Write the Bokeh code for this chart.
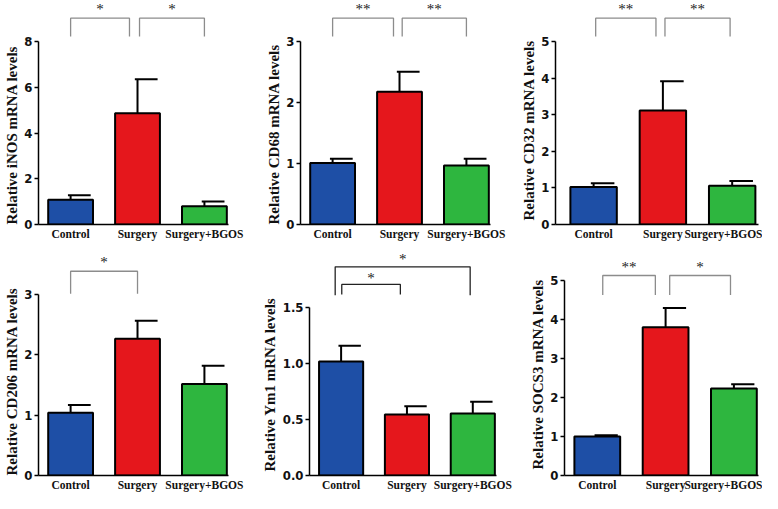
from bokeh.plotting import figure
from bokeh.layouts import column, row
from bokeh.models import Range1d, FixedTicker, ColumnDataSource, Title
from bokeh.core.properties import value
from bokeh.embed import file_html
from bokeh.resources import INLINE

# ---------------- data ----------------
groups = ["Control", "Surgery", "Surgery+BGOS"]

genes = ["iNOS", "CD68", "CD32", "CD206", "Ym1", "SOCS3"]

inos_mean = [1.08, 4.88, 0.80]
inos_err = [0.20, 1.49, 0.21]

cd68_mean = [1.01, 2.18, 0.97]
cd68_err = [0.07, 0.33, 0.11]

cd32_mean = [1.03, 3.12, 1.06]
cd32_err = [0.10, 0.80, 0.13]

cd206_mean = [1.04, 2.27, 1.52]
cd206_err = [0.13, 0.30, 0.30]

ym1_mean = [1.02, 0.545, 0.555]
ym1_err = [0.14, 0.075, 0.105]

socs3_mean = [1.00, 3.80, 2.23]
socs3_err = [0.03, 0.49, 0.11]

y_max = [8, 3, 5, 3, 1.5, 5]
y_ticks = [[0, 2, 4, 6, 8], [0, 1, 2, 3], [0, 1, 2, 3, 4, 5],
           [0, 1, 2, 3], [0.0, 0.5, 1.0, 1.5], [0, 1, 2, 3, 4, 5]]

# significance comparisons: (group i, group j, label)
sig_inos = [(0, 1, "*"), (1, 2, "*")]
sig_cd68 = [(0, 1, "**"), (1, 2, "**")]
sig_cd32 = [(0, 1, "**"), (1, 2, "**")]
sig_cd206 = [(0, 1, "*")]
sig_ym1 = [(0, 2, "*"), (0, 1, "*")]
sig_socs3 = [(0, 1, "**"), (1, 2, "*")]

means = [inos_mean, cd68_mean, cd32_mean, cd206_mean, ym1_mean, socs3_mean]
errs = [inos_err, cd68_err, cd32_err, cd206_err, ym1_err, socs3_err]
sigs = [sig_inos, sig_cd68, sig_cd32, sig_cd206, sig_ym1, sig_socs3]

# ---------------- styling / layout ----------------
bar_colors = ["#1E4FA6", "#E5171C", "#2EB63F"]
SERIF = "Liberation Serif"
NARROW = "DejaVu Sans Condensed"

# per panel: width, height, min_border_left, min_border_right, x_start, x_end,
# top factor, y-label offset from the frame bottom
layout_cfg = [
    dict(w=262, h=242, bl=33, br=34, x0=-0.48, x1=2.36, top=1.227, lo=0),
    dict(w=255, h=242, bl=33, br=27, x0=-0.48, x1=2.36, top=1.227, lo=0),
    dict(w=245, h=242, bl=33, br=4, x0=-0.55, x1=2.38, top=1.227, lo=4),
    dict(w=258, h=251, bl=33, br=30, x0=-0.48, x1=2.36, top=1.289, lo=0),
    dict(w=268, h=251, bl=43, br=30, x0=-0.48, x1=2.36, top=1.39, lo=4),
    dict(w=236, h=251, bl=33, br=4, x0=-0.48, x1=2.36, top=1.194, lo=6),
]
# bracket geometry per panel, per comparison:
# (left offset, right offset, top frac, drop frac, star frac)
bracket_cfg = [
    [(0.0, -0.12, 1.13, 1.03, 1.224), (0.03, 0.0, 1.13, 1.03, 1.224)],
    [(0.0, -0.09, 1.13, 1.03, 1.224), (0.04, 0.0, 1.13, 1.03, 1.224)],
    [(0.03, -0.10, 1.13, 1.03, 1.224), (0.03, -0.03, 1.13, 1.03, 1.224)],
    [(0.0, 0.0, 1.13, 1.005, 1.227)],
    [(-0.09, -0.04, 1.245, 1.075, 1.34), (0.01, -0.10, 1.14, 1.08, 1.223)],
    [(0.08, -0.15, 1.025, 0.925, 1.11), (0.06, -0.05, 1.025, 0.925, 1.11)],
]
bracket_colors = ["#8C8C8C", "#8C8C8C", "#8C8C8C", "#8C8C8C", "#222222", "#8C8C8C"]

figs = []
for k, gene in enumerate(genes):
    cfg = layout_cfg[k]
    ym = y_max[k]
    p = figure(width=cfg["w"], height=cfg["h"], output_backend="svg",
               toolbar_location=None,
               x_range=Range1d(cfg["x0"], cfg["x1"]),
               y_range=Range1d(0, ym * cfg["top"]),
               min_border_left=cfg["bl"], min_border_right=cfg["br"],
               min_border_top=0, min_border_bottom=0)
    p.outline_line_color = None
    p.xgrid.visible = False
    p.ygrid.visible = False
    p.background_fill_color = "white"
    p.border_fill_color = "white"

    xs = list(range(len(groups)))
    src = ColumnDataSource(dict(x=xs, top=means[k], color=bar_colors,
                                up=[m + e for m, e in zip(means[k], errs[k])]))
    # error bars (upper only)
    p.segment(x0="x", y0="top", x1="x", y1="up", source=src,
              line_color="black", line_width=2)
    cap_src = ColumnDataSource(dict(xa=[x - 0.04 for x in xs],
                                    xb=[x + 0.30 for x in xs],
                                    up=src.data["up"]))
    p.segment(x0="xa", y0="up", x1="xb", y1="up", source=cap_src,
              line_color="black", line_width=2)
    p.vbar(x="x", top="top", width=0.67, source=src, fill_color="color",
           line_color="black", line_width=2)

    # significance brackets
    bc = bracket_colors[k]
    for (i, j, lab), (lo, ro, tf, df, sf) in zip(sigs[k], bracket_cfg[k]):
        xa = i + lo
        xb = j + ro
        yt = ym * tf
        yd = ym * df
        p.line(x=[xa, xa, xb, xb], y=[yd, yt, yt, yd], line_color=bc, line_width=1.3)
        p.text(x=[(xa + xb) / 2], y=[ym * sf], text=[lab],
               text_font=value(SERIF), text_font_size="15px",
               text_color="#222222", text_align="center", text_baseline="top")

    # y axis
    ya = p.yaxis[0]
    ya.bounds = (0, ym)
    ya.ticker = FixedTicker(ticks=y_ticks[k])
    ya.minor_tick_line_color = None
    ya.major_tick_in = 0
    ya.major_tick_out = 4
    ya.major_tick_line_width = 1.5
    ya.axis_line_width = 1.5
    ya.axis_line_color = "black"
    ya.major_label_text_font = NARROW
    ya.major_label_text_font_style = "bold"
    ya.major_label_text_font_size = "13px"
    ya.major_label_text_color = "#111111"
    ya.major_label_standoff = 2
    if k == 4:
        ya.major_label_overrides = {t: "%.1f" % t for t in y_ticks[k]}
    else:
        ya.major_label_overrides = {t: "%d" % t for t in y_ticks[k]}

    # y axis title, starting at the bottom of the axis like the original
    ylab = Title(text="Relative %s mRNA levels" % gene, align="left",
                 offset=cfg["lo"], standoff=3,
                 text_font=SERIF, text_font_style="bold",
                 text_font_size="15px", text_color="#111111")
    p.add_layout(ylab, "left")

    # x axis
    xa_ = p.xaxis[0]
    xa_.axis_label = None
    xa_.ticker = FixedTicker(ticks=xs)
    xa_.major_label_overrides = {i: g for i, g in enumerate(groups)}
    xa_.major_tick_in = 0
    xa_.major_tick_out = 0
    xa_.minor_tick_line_color = None
    xa_.axis_line_width = 1.5
    xa_.axis_line_color = "black"
    xa_.axis_label_standoff = 0
    xa_.major_label_text_font = SERIF
    xa_.major_label_text_font_style = "bold"
    xa_.major_label_text_font_size = "11.5px"
    xa_.major_label_text_color = "#111111"
    xa_.major_label_text_line_height = 1.0
    xa_.major_label_standoff = 3

    figs.append(p)

layout = column(row(*figs[:3]), row(*figs[3:]))
open("out.html", "w").write(file_html(layout, INLINE))
